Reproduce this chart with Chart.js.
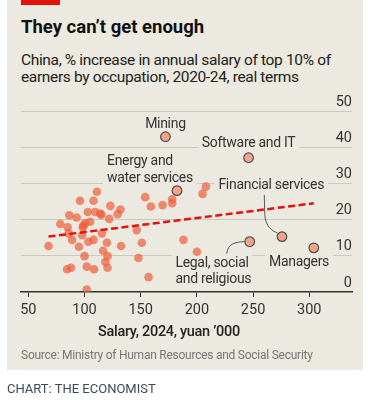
<!DOCTYPE html>
<html>
<head>
<meta charset="utf-8">
<script src="https://cdn.jsdelivr.net/npm/chart.js@4.4.1/dist/chart.umd.min.js"></script>
<style>
  body { margin: 0; width: 368px; height: 400px; background: #fff; position: relative; overflow: hidden; font-family: Roboto, "Liberation Sans", sans-serif; }
  #panel { position: absolute; left: 7px; top: 0; width: 356px; height: 370px; background: #ebe9e0; }
  #bar { position: absolute; left: 21px; top: 0; width: 39px; height: 5px; background: #e3120b; }
  .txt { position: absolute; white-space: nowrap; }
  #title { left: 21px; top: 16px; font-size: 18.5px; line-height: 22px; font-weight: bold; color: #111; }
  #sub { left: 21px; top: 51.5px; font-size: 15.5px; line-height: 17px; letter-spacing: -0.35px; color: #222; }
  #xtitle { left: 98px; top: 324px; font-size: 14.5px; line-height: 16px; font-weight: 500; letter-spacing: -0.3px; color: #222; }
  #source { left: 21px; top: 348px; font-size: 12px; line-height: 14px; letter-spacing: -0.25px; color: #767676; }
  #credit { left: 7px; top: 381px; font-size: 13px; line-height: 15px; color: #3b4a58; }
  canvas { position: absolute; left: 0; top: 0; }
</style>
</head>
<body>
<div id="panel"></div>
<div id="bar"></div>
<div class="txt" id="title">They can’t get enough</div>
<div class="txt" id="sub">China, % increase in annual salary of top 10% of<br>earners by occupation, 2020-24, real terms</div>
<canvas id="c" width="368" height="400"></canvas>
<div class="txt" id="xtitle">Salary, 2024, yuan ’000</div>
<div class="txt" id="source">Source: Ministry of Human Resources and Social Security</div>
<div class="txt" id="credit">CHART: THE ECONOMIST</div>
<script>
// other occupations: salary (yuan '000) and % increase
const salary = [111, 96, 108, 123, 154, 159, 169.5, 178, 178, 208, 205, 132, 129.5, 86.5, 93, 103, 109.5, 114,
  105, 100.5, 122, 78.5, 85, 98.5, 86, 98, 115.5, 146.5, 89, 95, 103.5, 108, 120, 132.5, 151, 188, 68,
  116.5, 120.5, 100, 148, 118.5, 120.5, 84.5, 88, 102, 108.5, 157, 102, 200, 115, 99];
const increase = [27.7, 25.2, 25.2, 23.8, 26.2, 23.6, 24.0, 24.5, 25.6, 29.1, 27.1, 22.8, 21.5, 21.2, 20.6, 22.1, 22.1, 21.7,
  19.4, 19.0, 20.2, 18.8, 17.9, 17.9, 16.2, 15.7, 16.2, 17.1, 14.4, 12.5, 13.9, 14.4, 13.6, 12.7, 13.6, 14.4, 12.7,
  11.4, 9.9, 9.9, 9.4, 8.3, 6.7, 6.3, 6.7, 7.0, 6.3, 4.1, 0.7, 11.1, 21.3, 18.3];

// labelled occupations
const namedOccupations = ['Mining', 'Energy and water services', 'Software and IT',
  'Financial services', 'Legal, social and religious', 'Managers'];
const namedSalary = [172, 182.3, 246, 275.7, 247, 304];
const namedIncrease = [42.9, 28.0, 37.1, 15.3, 13.9, 12.2];

// fitted line
const trendSalary = [68, 304];
const trendIncrease = [15.3, 24.5];

const xTicks = [50, 100, 150, 200, 250, 300];
const yTicks = [0, 10, 20, 30, 40, 50];

const PANEL = '#ebe9e0';
const INK = '#333';

// where each label sits relative to its dot (px offsets)
const callouts = {
  'Mining': { lines: ['Mining'], align: 'center', dx: 0, dy: [-9] },
  'Energy and water services': { lines: ['Energy and', 'water services'], align: 'left', dx: -70, dy: [-26, -9] },
  'Software and IT': { lines: ['Software and IT'], align: 'center', dx: 0, dy: [-10.5] },
  'Financial services': { lines: ['Financial services'], align: 'center', dx: -10.7, dy: [-47.7],
    leader: [[-17.7, -41.7], [-17.2, -22], [-16.5, -10], [-10, -6], [-4.5, -3.5]] },
  'Legal, social and religious': { lines: ['Legal, social', 'and religious'], align: 'left', dx: -74.3, dy: [25, 41.3],
    leader: [[-23, 12], [-23, 12], [-22, 2], [-14, 0], [-5, 0]] },
  'Managers': { lines: ['Managers'], align: 'center', dx: -14.8, dy: [18] }
};

const calloutPlugin = {
  id: 'callouts',
  beforeDatasetsDraw(chart) {
    const x = chart.scales.x, y = chart.scales.y;
    const ctx = chart.ctx;
    ctx.save();
    ctx.font = '14px Roboto';
    if ('letterSpacing' in ctx) ctx.letterSpacing = '-0.3px';
    ctx.textBaseline = 'alphabetic';
    ctx.textAlign = 'left';
    const items = [];
    namedOccupations.forEach((name, i) => {
      const c = callouts[name];
      const px = x.getPixelForValue(namedSalary[i]);
      const py = y.getPixelForValue(namedIncrease[i]);
      c.lines.forEach((t, j) => {
        const w = ctx.measureText(t).width;
        let left = px + c.dx;
        if (c.align === 'center') left -= w / 2;
        items.push({ t, left, base: py + c.dy[j], w });
      });
      c.px = px; c.py = py;
    });
    // knock out gridlines behind text
    ctx.fillStyle = PANEL;
    items.forEach(it => ctx.fillRect(it.left - 4, it.base - 12, it.w + 8, 16));
    ctx.fillStyle = INK;
    items.forEach(it => ctx.fillText(it.t, it.left, it.base));
    // leader lines
    ctx.strokeStyle = '#555';
    ctx.lineWidth = 1;
    namedOccupations.forEach(name => {
      const c = callouts[name];
      if (!c.leader) return;
      const p = c.leader.map(([dx, dy]) => [c.px + dx, c.py + dy]);
      ctx.beginPath();
      ctx.moveTo(p[0][0], p[0][1]);
      ctx.lineTo(p[1][0], p[1][1]);
      ctx.bezierCurveTo(p[2][0], p[2][1], p[3][0], p[3][1], p[4][0], p[4][1]);
      ctx.stroke();
    });
    ctx.restore();
  }
};

Chart.defaults.font.family = 'Roboto, "Liberation Sans", sans-serif';

new Chart(document.getElementById('c'), {
  type: 'scatter',
  data: {
    datasets: [
      {
        type: 'line',
        data: trendSalary.map((v, i) => ({ x: v, y: trendIncrease[i] })),
        borderColor: '#e3120b', borderWidth: 2.5, borderDash: [7, 3.5],
        pointRadius: 0, fill: false
      },
      {
        data: namedSalary.map((v, i) => ({ x: v, y: namedIncrease[i] })),
        pointRadius: 4.8, backgroundColor: '#f5a487', borderColor: '#4d4d4d', borderWidth: 1.2
      },
      {
        data: salary.map((v, i) => ({ x: v, y: increase[i] })),
        pointRadius: 4.3, backgroundColor: 'rgba(240,94,58,0.7)', borderWidth: 0
      }
    ]
  },
  options: {
    responsive: false,
    animation: false,
    devicePixelRatio: 1,
    layout: { padding: { left: 21, right: 16, top: 111, bottom: 78 } },
    plugins: { legend: { display: false }, tooltip: { enabled: false } },
    scales: {
      x: {
        type: 'linear', min: 43.5, max: 338,
        afterBuildTicks: s => { s.ticks = xTicks.map(v => ({ value: v })); },
        afterFit: s => { s.height = 30; },
        grid: { drawOnChartArea: false, drawTicks: true, tickLength: 5, color: INK, lineWidth: 1 },
        border: { color: INK, width: 1.5 },
        ticks: { padding: 5, font: { size: 14.5 }, color: INK, maxRotation: 0, autoSkip: false }
      },
      y: {
        position: 'right', min: 0, max: 50,
        afterBuildTicks: s => { s.ticks = yTicks.map(v => ({ value: v })); },
        afterFit: s => { s.width = 0; },
        grid: { drawTicks: false, color: c => c.tick && c.tick.value === 0 ? 'rgba(0,0,0,0)' : '#cbc9bf', lineWidth: 1 },
        border: { display: false },
        ticks: { mirror: true, padding: 0, labelOffset: -9, font: { size: 14.5 }, color: INK }
      }
    }
  },
  plugins: [calloutPlugin]
});
</script>
</body>
</html>
